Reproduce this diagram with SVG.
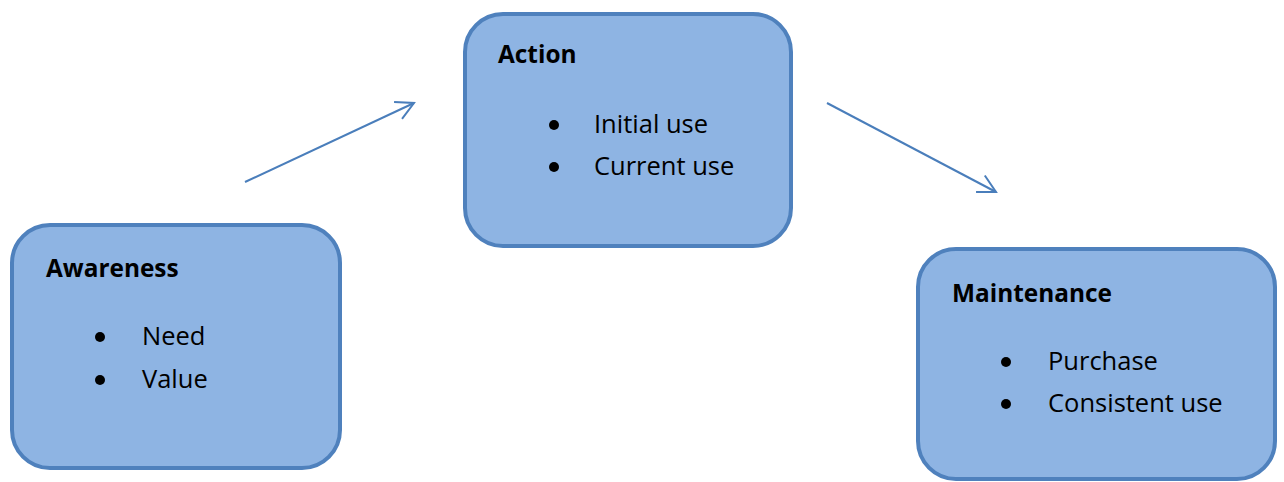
<svg xmlns="http://www.w3.org/2000/svg" width="1284" height="482" viewBox="0 0 1284 482">
<style>
.box{fill:#8eb4e3;stroke:#4f81bd;stroke-width:4}
.title{font-family:"Open Sans",Lato,sans-serif;font-weight:bold;font-size:24.4px;fill:#000}
.item{font-family:"Open Sans",Lato,sans-serif;font-size:25.5px;fill:#000}
.bul{fill:#000}
.conn{stroke:#4a7ebb;stroke-width:2;fill:none}
</style>
<defs>
<marker id="arr" markerUnits="userSpaceOnUse" viewBox="-20 -12 22 24" refX="0" refY="0" markerWidth="22" markerHeight="24" orient="auto" overflow="visible">
<path d="M -17.6 -9.4 L 0 0 L -17.6 9.4" fill="none" stroke="#4a7ebb" stroke-width="2"/>
</marker>
</defs>
<rect width="1284" height="482" fill="#fff"/>
<g id="connectors">
<line class="conn" x1="245" y1="182" x2="414" y2="103" marker-end="url(#arr)"/>
<line class="conn" x1="827" y1="103" x2="996" y2="192" marker-end="url(#arr)"/>
</g>
<g id="awareness">
<rect class="box" x="12" y="225" width="328" height="243" rx="38" ry="38"/>
<text class="title" x="46" y="277">Awareness</text>
<circle class="bul" cx="100" cy="337" r="5"/>
<text class="item" x="142" y="345">Need</text>
<circle class="bul" cx="100" cy="380" r="5"/>
<text class="item" x="142" y="388">Value</text>
</g>
<g id="action">
<rect class="box" x="465" y="14" width="326" height="232" rx="38" ry="38"/>
<text class="title" x="498" y="63">Action</text>
<circle class="bul" cx="554" cy="125" r="5"/>
<text class="item" x="594" y="133">Initial use</text>
<circle class="bul" cx="554" cy="167" r="5"/>
<text class="item" x="594" y="175">Current use</text>
</g>
<g id="maintenance">
<rect class="box" x="918" y="249" width="357" height="230" rx="38" ry="38"/>
<text class="title" x="952" y="302">Maintenance</text>
<circle class="bul" cx="1006" cy="362" r="5"/>
<text class="item" x="1048" y="370">Purchase</text>
<circle class="bul" cx="1006" cy="404" r="5"/>
<text class="item" x="1048" y="412">Consistent use</text>
</g>
</svg>
